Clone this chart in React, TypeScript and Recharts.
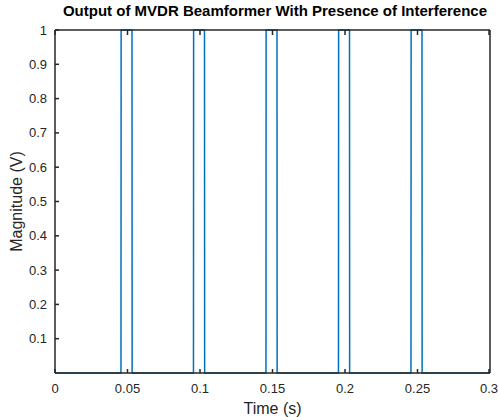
import { LineChart, Line, XAxis, YAxis, Label } from "recharts";

// MVDR output samples (s, V)
const time = [
  0, 0.0455, 0.0456, 0.0531, 0.0532, 0.0955, 0.0956, 0.1031, 0.1032, 0.1455,
  0.1456, 0.1531, 0.1532, 0.1955, 0.1956, 0.2031, 0.2032, 0.2455, 0.2456,
  0.2531, 0.2532, 0.3,
];
const magnitude = [
  0, 0, 1, 1, 0, 0, 1, 1, 0, 0, 1, 1, 0, 0, 1, 1, 0, 0, 1, 1, 0, 0,
];
const xTicks = [0, 0.05, 0.1, 0.15, 0.2, 0.25, 0.3];
const xTickLabels = ["0", "0.05", "0.1", "0.15", "0.2", "0.25", "0.3"];
const yTicks = [0.1, 0.2, 0.3, 0.4, 0.5, 0.6, 0.7, 0.8, 0.9, 1];
const yTickLabels = ["0.1", "0.2", "0.3", "0.4", "0.5", "0.6", "0.7", "0.8", "0.9", "1"];

const data = time.map((t, i) => ({ time: t, mag: magnitude[i] }));

const INK = "#262626";
const FONT = "'Liberation Sans', Arial, sans-serif";

const BottomTick = (props: any) => {
  const { x, y, payload } = props;
  const i = xTicks.indexOf(payload.value);
  return (
    <g>
      <line x1={x} y1={y} x2={x} y2={y - 4} stroke={INK} strokeWidth={1.5} />
      <text x={x} y={y + 20} textAnchor="middle" fill={INK} fontSize={13} fontFamily={FONT}>
        {xTickLabels[i]}
      </text>
    </g>
  );
};

const TopTick = (props: any) => {
  const { x, y } = props;
  return <line x1={x} y1={y} x2={x} y2={y + 5} stroke={INK} strokeWidth={1.5} />;
};

const LeftTick = (props: any) => {
  const { x, y, payload } = props;
  const i = yTicks.indexOf(payload.value);
  return (
    <g>
      <line x1={x} y1={y} x2={x + 4} y2={y} stroke={INK} strokeWidth={1.5} />
      <text x={x - 8} y={y + 4.5} textAnchor="end" fill={INK} fontSize={13} fontFamily={FONT}>
        {yTickLabels[i]}
      </text>
    </g>
  );
};

const RightTick = (props: any) => {
  const { x, y } = props;
  return <line x1={x} y1={y} x2={x - 5} y2={y} stroke={INK} strokeWidth={1.5} />;
};

export default function App() {
  return (
    <div style={{ position: "absolute", left: 0, top: 0, width: 499, height: 417, background: "#fff" }}>
      <div
        style={{
          position: "absolute",
          left: 55,
          width: 440,
          top: 2,
          textAlign: "center",
          fontFamily: FONT,
          fontWeight: "bold",
          fontSize: 15,
          color: "#000",
          whiteSpace: "nowrap",
        }}
      >
        Output of MVDR Beamformer With Presence of Interference
      </div>
      <LineChart
        width={499}
        height={417}
        data={data}
        margin={{ top: 29, right: 8, left: 0, bottom: 0 }}
      >
        <XAxis
          dataKey="time"
          type="number"
          domain={[0, 0.3]}
          ticks={xTicks}
          allowDataOverflow
          height={44}
          tickSize={0}
          tickMargin={0}
          tick={<BottomTick />}
          axisLine={{ stroke: INK, strokeWidth: 1.5 }}
          tickLine={false}
        >
          <Label value="Time (s)" position="insideBottom" offset={3} fill={INK} fontSize={16} fontFamily={FONT} />
        </XAxis>
        <XAxis
          xAxisId="top"
          orientation="top"
          dataKey="time"
          type="number"
          domain={[0, 0.3]}
          ticks={xTicks}
          height={1}
          tickSize={0}
          tickMargin={0}
          tick={<TopTick />}
          axisLine={{ stroke: INK, strokeWidth: 1.5 }}
          tickLine={false}
        />
        <YAxis
          type="number"
          domain={[0, 1]}
          ticks={yTicks}
          width={55}
          tickSize={0}
          tickMargin={0}
          tick={<LeftTick />}
          axisLine={{ stroke: INK, strokeWidth: 1.5 }}
          tickLine={false}
        >
          <Label
            value="Magnitude (V)"
            angle={-90}
            position="insideLeft"
            offset={16}
            style={{ textAnchor: "middle" }}
            fill={INK}
            fontSize={16}
            fontFamily={FONT}
          />
        </YAxis>
        <YAxis
          yAxisId="right"
          orientation="right"
          type="number"
          domain={[0, 1]}
          ticks={yTicks}
          width={1}
          tickSize={0}
          tickMargin={0}
          tick={<RightTick />}
          axisLine={{ stroke: INK, strokeWidth: 1.5 }}
          tickLine={false}
        />
        <Line
          dataKey="mag"
          type="linear"
          stroke="#0072BD"
          strokeWidth={1.5}
          dot={false}
          isAnimationActive={false}
        />
      </LineChart>
    </div>
  );
}
